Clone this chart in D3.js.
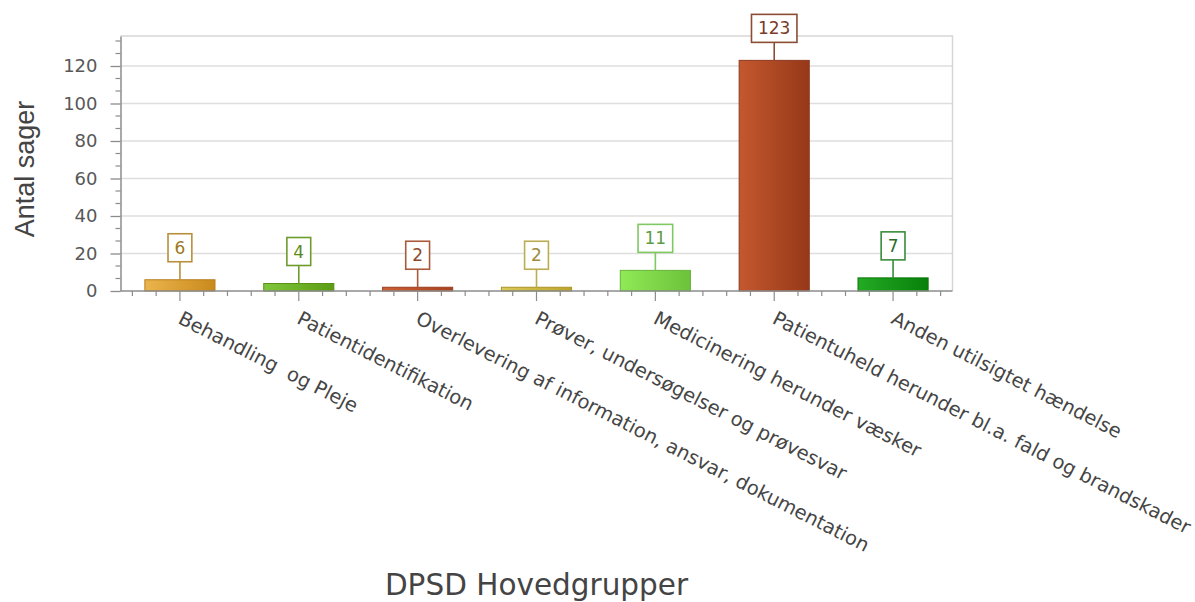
<!DOCTYPE html>
<html>
<head>
<meta charset="utf-8">
<script src="https://cdn.jsdelivr.net/npm/d3@7"></script>
<style>
  html, body { margin: 0; padding: 0; background: #fff; }
  svg { display: block; }
</style>
</head>
<body>
<svg id="chart" width="1195" height="602"></svg>
<script>
// DPSD main groups and the number of cases in each
const categories = [
  "Behandling  og Pleje",
  "Patientidentifikation",
  "Overlevering af information, ansvar, dokumentation",
  "Prøver, undersøgelser og prøvesvar",
  "Medicinering herunder væsker",
  "Patientuheld herunder bl.a. fald og brandskader",
  "Anden utilsigtet hændelse"
];
const counts = [6, 4, 2, 2, 11, 123, 7];

// y-axis tick values
const yTicks = [0, 20, 40, 60, 80, 100, 120];
const yMax = 136;

// per-bar palette: [gradient light, gradient dark, outline, label box, label text]
const palette = [
  ["#ebb44c", "#c98a1c", "#b87e1e", "#b8903c", "#9c7a24"],
  ["#80c63c", "#5a9c14", "#5a9018", "#6c9c2c", "#5a8a20"],
  ["#cc5e34", "#a8421e", "#9c3e1e", "#a85a3a", "#8c4a30"],
  ["#dcc858", "#bca42c", "#aa9424", "#bcac54", "#9c8c3c"],
  ["#90ea56", "#6cc23a", "#66b43a", "#80c862", "#5c9c44"],
  ["#c4582e", "#963818", "#8a3a20", "#8c4c34", "#7a3a28"],
  ["#24aa24", "#07800a", "#0c760c", "#3a8c3a", "#2a6c2a"]
];

const svg = d3.select("#chart");
const margin = { left: 120.5, right: 952.5, top: 36, bottom: 291 };

const x = d3.scaleBand()
  .domain(categories)
  .range([margin.left, margin.right])
  .paddingInner(0.41)
  .paddingOuter(0.205);

const y = d3.scaleLinear()
  .domain([0, yMax])
  .range([margin.bottom, margin.top]);

// gradients
const defs = svg.append("defs");
palette.forEach((p, i) => {
  const g = defs.append("linearGradient")
    .attr("id", "barGrad" + i)
    .attr("x1", "0%").attr("x2", "100%").attr("y1", "0%").attr("y2", "0%");
  g.append("stop").attr("offset", "0%").attr("stop-color", p[0]);
  g.append("stop").attr("offset", "100%").attr("stop-color", p[1]);
});

// grid lines
svg.append("g")
  .selectAll("line")
  .data(yTicks.filter(d => d > 0))
  .join("line")
  .attr("x1", margin.left).attr("x2", margin.right)
  .attr("y1", d => y(d)).attr("y2", d => y(d))
  .attr("stroke", "#dedede").attr("stroke-width", 1.5);

// plot frame (top and right)
svg.append("path")
  .attr("d", `M${margin.left},${y(yMax)}H${margin.right}V${y(0)}`)
  .attr("fill", "none").attr("stroke", "#d6d6d6").attr("stroke-width", 1.5);

// y axis
const yAxis = d3.axisLeft(y).tickValues(yTicks).tickSize(10).tickPadding(13).tickSizeOuter(0);
const yg = svg.append("g").attr("transform", `translate(${margin.left},0)`).call(yAxis);
yg.select(".domain").attr("stroke", "#8c8c8c").attr("stroke-width", 1.5);
yg.selectAll(".tick line").attr("stroke", "#8c8c8c").attr("stroke-width", 1.3);
yg.selectAll(".tick text")
  .attr("font-family", "'DejaVu Sans', Verdana, sans-serif")
  .attr("font-size", 18).attr("fill", "#585858");

// y minor ticks
const yMinor = d3.range(0, yMax + 0.001, 20 / 3).filter(v => Math.abs(v / 20 - Math.round(v / 20)) > 1e-6);
svg.append("g").selectAll("line")
  .data(yMinor).join("line")
  .attr("x1", margin.left - 5).attr("x2", margin.left)
  .attr("y1", d => y(d)).attr("y2", d => y(d))
  .attr("stroke", "#8c8c8c").attr("stroke-width", 1.2);

// bars
svg.append("g").selectAll("rect")
  .data(counts)
  .join("rect")
  .attr("x", (d, i) => x(categories[i]))
  .attr("y", d => y(d))
  .attr("width", x.bandwidth())
  .attr("height", d => y(0) - y(d))
  .attr("fill", (d, i) => `url(#barGrad${i})`)
  .attr("stroke", (d, i) => palette[i][2])
  .attr("stroke-width", 1);

// x axis line and ticks
svg.append("line")
  .attr("x1", margin.left).attr("x2", margin.right)
  .attr("y1", y(0)).attr("y2", y(0))
  .attr("stroke", "#8c8c8c").attr("stroke-width", 1.5);

const step = x.step();
const xTickData = [];
categories.forEach(c => {
  const cx = x(c) + x.bandwidth() / 2;
  for (let k = -2; k <= 2; k++) xTickData.push({ pos: cx + k * step / 5, major: k === 0 });
});
svg.append("g").selectAll("line")
  .data(xTickData).join("line")
  .attr("x1", d => d.pos).attr("x2", d => d.pos)
  .attr("y1", y(0)).attr("y2", d => y(0) + (d.major ? 10 : 5))
  .attr("stroke", "#8c8c8c").attr("stroke-width", 1.2);

// category labels, rotated
svg.append("g").selectAll("text")
  .data(categories)
  .join("text")
  .attr("transform", d => `translate(${x(d) + x.bandwidth() / 2 + 4},309) rotate(27)`)
  .attr("dy", "0.8em")
  .attr("font-family", "'DejaVu Sans', Verdana, sans-serif")
  .attr("font-size", 19.4)
  .attr("fill", "#454545")
  .attr("xml:space", "preserve")
  .style("white-space", "pre")
  .text(d => d);

// value callouts
const callouts = svg.append("g");
counts.forEach((v, i) => {
  const cx = x(categories[i]) + x.bandwidth() / 2;
  const boxBottom = y(v) - 18;
  const boxH = 28;
  const g = callouts.append("g");
  const t = g.append("text")
    .attr("x", cx).attr("y", boxBottom - boxH / 2)
    .attr("dy", "0.36em")
    .attr("text-anchor", "middle")
    .attr("font-family", "'DejaVu Sans', Verdana, sans-serif")
    .attr("font-size", 17)
    .attr("fill", palette[i][4])
    .text(v);
  const w = t.node().getComputedTextLength() + 13;
  g.insert("line", "text")
    .attr("x1", cx).attr("x2", cx)
    .attr("y1", boxBottom).attr("y2", y(v))
    .attr("stroke", palette[i][3]).attr("stroke-width", 1.6);
  g.insert("rect", "text")
    .attr("x", cx - w / 2).attr("y", boxBottom - boxH)
    .attr("width", w).attr("height", boxH)
    .attr("fill", "#fff")
    .attr("stroke", palette[i][3]).attr("stroke-width", 1.6);
});

// axis titles
svg.append("text")
  .attr("transform", `translate(34,169) rotate(-90)`)
  .attr("text-anchor", "middle")
  .attr("font-family", "'Liberation Sans', Arial, sans-serif")
  .attr("font-size", 27)
  .attr("fill", "#444")
  .text("Antal sager");

svg.append("text")
  .attr("x", (margin.left + margin.right) / 2)
  .attr("y", 595)
  .attr("text-anchor", "middle")
  .attr("font-family", "'DejaVu Sans', Verdana, sans-serif")
  .attr("font-size", 29.5)
  .attr("fill", "#444")
  .text("DPSD Hovedgrupper");
</script>
</body>
</html>
